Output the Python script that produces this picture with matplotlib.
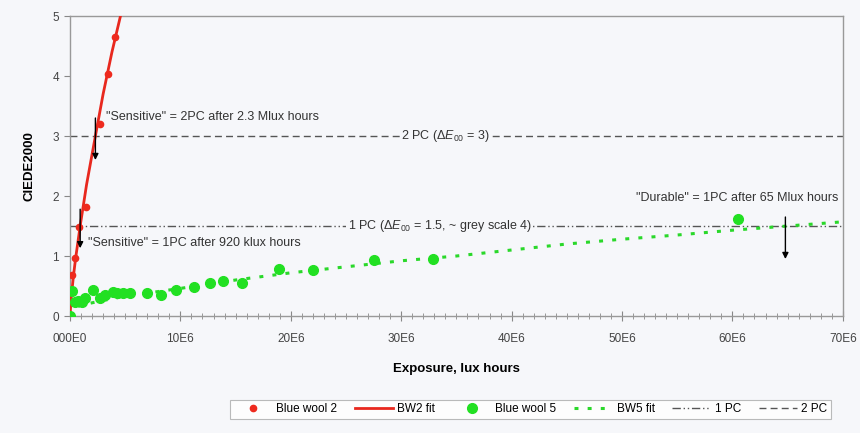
import matplotlib.pyplot as plt
from matplotlib.ticker import MultipleLocator, FixedLocator, FixedFormatter

plt.rcParams['font.family'] = ['Liberation Sans', 'DejaVu Sans']
plt.rcParams['mathtext.fontset'] = 'custom'
plt.rcParams['mathtext.rm'] = 'Liberation Sans'
plt.rcParams['mathtext.it'] = 'Liberation Sans:italic'

# exposure in Mlux hours (plotted as lux hours), colour difference CIEDE2000
bw2_x = [0.0, 0.18, 0.45, 0.82, 1.45, 2.72, 3.44, 4.08]
bw2_y = [0.0, 0.68, 0.97, 1.48, 1.82, 3.2, 4.03, 4.65]
bw2_fit_x = [0.0, 0.1, 0.3, 0.5, 0.92, 1.5, 2.3, 3.0, 3.8, 4.7]
bw2_fit_y = [0.0, 0.28, 0.65, 0.95, 1.5, 2.19, 3.0, 3.7, 4.4, 5.1]

bw5_x = [0.0, 0.2, 0.45, 0.7, 1.1, 1.35, 2.1, 2.7, 3.2, 3.9, 4.3, 4.8, 5.4,
         7.0, 8.2, 9.6, 11.2, 12.7, 13.9, 15.6, 18.9, 22.0, 27.5, 32.9, 60.5]
bw5_y = [0.0, 0.42, 0.23, 0.25, 0.23, 0.3, 0.43, 0.3, 0.35, 0.4, 0.38, 0.38, 0.38,
         0.38, 0.35, 0.43, 0.48, 0.55, 0.58, 0.55, 0.78, 0.77, 0.93, 0.95, 1.62]
bw5_fit_x = [0.0, 0.3, 1.0, 2.5, 5, 10, 15, 20, 25, 30, 35, 40, 45, 50, 55, 60, 65, 70]
bw5_fit_y = [0.0, 0.12, 0.18, 0.24, 0.33, 0.46, 0.6, 0.72, 0.82, 0.92, 1.0, 1.1,
             1.2, 1.28, 1.35, 1.43, 1.5, 1.57]

pc1 = 1.5
pc2 = 3.0
xticks = [0, 10, 20, 30, 40, 50, 60, 70]
xticklabels = ['000E0', '10E6', '20E6', '30E6', '40E6', '50E6', '60E6', '70E6']

M = 1e6
bg = '#f6f7fa'
grey = '#555555'

fig = plt.figure(figsize=(8.6, 4.33), dpi=100, facecolor=bg)
ax = fig.add_axes([0.0814, 0.2702, 0.8986, 0.6928], facecolor=bg)

ax.plot([0, 70 * M], [pc1, pc1], color=grey, lw=1, dashes=(6, 2, 1, 2, 1, 2), label='1 PC', zorder=1)
ax.plot([0, 70 * M], [pc2, pc2], color=grey, lw=1, dashes=(5, 3), label='2 PC', zorder=1)

ax.plot([v * M for v in bw2_fit_x], bw2_fit_y, color='#e8281e', lw=2, label='BW2 fit', zorder=3)
ax.plot([v * M for v in bw2_x], bw2_y, 'o', color='#ee2a1e', ms=4.5, label='Blue wool 2', zorder=4)
ax.plot([v * M for v in bw5_fit_x], bw5_fit_y, color='#2ad82a', lw=2.2, dashes=(1.3, 3),
        label='BW5 fit', zorder=3)
ax.plot([v * M for v in bw5_x], bw5_y, 'o', color='#22e022', ms=7, label='Blue wool 5', zorder=4)

# labels on the threshold lines
ax.text(34 * M, pc2, r'2 PC ($\Delta\mathit{E}_{00}$ = 3)', ha='center', va='center', fontsize=9,
        color='#333333', bbox=dict(facecolor=bg, edgecolor='none', pad=1), zorder=2)
ax.text(33.5 * M, pc1, r'1 PC ($\Delta\mathit{E}_{00}$ = 1.5, ~ grey scale 4)', ha='center',
        va='center', fontsize=9, color='#333333',
        bbox=dict(facecolor=bg, edgecolor='none', pad=1), zorder=2)

arrow = dict(arrowstyle='-|>', color='black', lw=1, mutation_scale=9, shrinkA=0, shrinkB=0)
ax.annotate('', xy=(2.3 * M, 2.6), xytext=(2.3 * M, 3.3), arrowprops=arrow, zorder=5)
ax.annotate('', xy=(0.92 * M, 1.13), xytext=(0.92 * M, 1.78), arrowprops=arrow, zorder=5)
ax.annotate('', xy=(64.8 * M, 0.95), xytext=(64.8 * M, 1.65), arrowprops=arrow, zorder=5)

ax.text(3.3 * M, 3.32, '"Sensitive" = 2PC after 2.3 Mlux hours', fontsize=9, color='#333333',
        va='center')
ax.text(1.6 * M, 1.22, '"Sensitive" = 1PC after 920 klux hours', fontsize=9, color='#333333',
        va='center')
ax.text(69.6 * M, 1.97, '"Durable" = 1PC after 65 Mlux hours', fontsize=9, color='#333333',
        va='center', ha='right')

ax.set_xlim(0, 70 * M)
ax.set_ylim(0, 5)
ax.xaxis.set_major_locator(FixedLocator([v * M for v in xticks]))
ax.xaxis.set_major_formatter(FixedFormatter(xticklabels))
ax.xaxis.set_minor_locator(MultipleLocator(1 * M))
ax.yaxis.set_major_locator(MultipleLocator(1))
ax.tick_params(axis='x', which='major', direction='inout', length=7, color='#888888',
               labelsize=8.5, labelcolor='#444444', pad=9)
ax.tick_params(axis='x', which='minor', direction='inout', length=4, color='#888888')
ax.tick_params(axis='y', direction='out', length=4, color='#888888', labelsize=8.5,
               labelcolor='#444444', pad=4)
for s in ax.spines.values():
    s.set_color('#999999')
    s.set_linewidth(1)

ax.set_xlabel('Exposure, lux hours', fontsize=9.5, fontweight='bold', labelpad=13)
ax.set_ylabel('CIEDE2000', fontsize=9.5, fontweight='bold', labelpad=12)

h, l = ax.get_legend_handles_labels()
order = ['Blue wool 2', 'BW2 fit', 'Blue wool 5', 'BW5 fit', '1 PC', '2 PC']
hh = [h[l.index(n)] for n in order]
leg = fig.legend(hh, order, loc='center', bbox_to_anchor=(0.617, 0.055), ncol=6, fontsize=8.5,
                 frameon=True, fancybox=False, edgecolor='#aaaaaa', facecolor='white',
                 handlelength=3.2, handletextpad=0.4, columnspacing=1.5, borderpad=0.3)
leg.get_frame().set_linewidth(0.8)

fig.savefig('out.png', dpi=100, facecolor=bg)
